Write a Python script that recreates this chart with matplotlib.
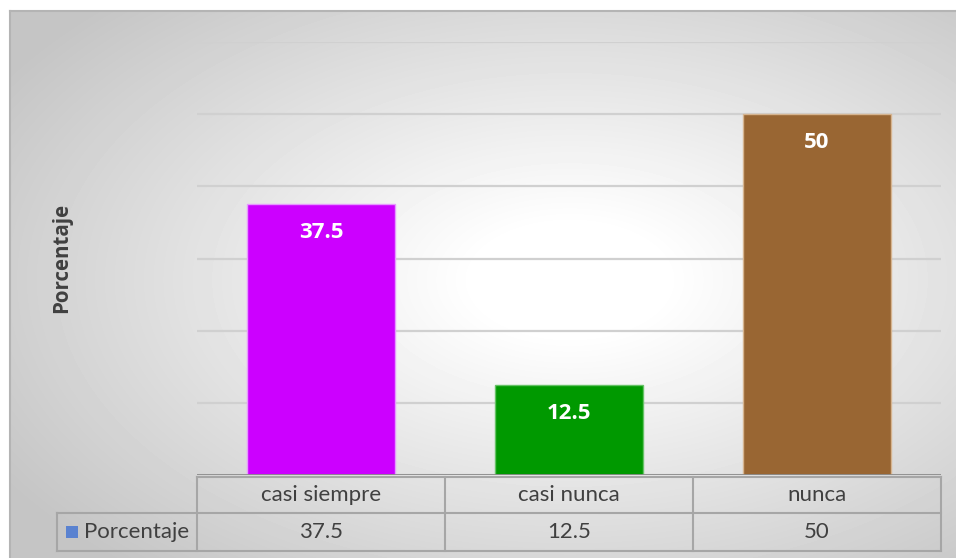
import numpy as np
import matplotlib.pyplot as plt
import matplotlib.transforms as mtransforms
from matplotlib.patches import Rectangle

categorias = ['casi siempre', 'casi nunca', 'nunca']
porcentaje = [37.5, 12.5, 50]
etiquetas = ['37.5', '12.5', '50']
serie = 'Porcentaje'

colores = ['#cc00ff', '#009900', '#996633']
bordes = ['#e699ff', '#66c266', '#d6b48f']
texto = '#404040'
linea_tabla = '#a6a6a6'
negrita = ['Open Sans', 'DejaVu Sans']

W, H = 956, 558
plt.rcParams['font.family'] = ['Lato', 'DejaVu Sans']

fig = plt.figure(figsize=(W / 100, H / 100), dpi=100)
fig.patch.set_facecolor('white')

# capa de fondo en pixeles (degradado radial + tabla)
bg = fig.add_axes([0, 0, 1, 1], zorder=0)
bg.axis('off')

x0, y0, x1, y1 = 10, 11, W, H
yy, xx = np.mgrid[y0:y1, x0:x1] + 0.5
cx, cy = 570, 280
d = np.sqrt(((xx - cx) / ((x1 - x0) / 2)) ** 2 + ((yy - cy) / ((y1 - y0) / 2)) ** 2)
v = 255 - 58 * np.clip((d - 0.2) / 1.2, 0, 1)
bg.imshow(v, cmap='gray', vmin=0, vmax=255, extent=(x0, x1, y1, y0),
          origin='upper', aspect='auto', interpolation='bilinear')
bg.plot([x0, x0], [y1, y0], color='#b4b4b4', lw=1.5)
bg.plot([x0, x1], [y0, y0], color='#b4b4b4', lw=1.5)
bg.set_xlim(0, W)
bg.set_ylim(H, 0)

# area del grafico
ax = fig.add_axes([197 / W, 1 - 475 / H, (941 - 197) / W, (475 - 42) / H], zorder=1)
ax.patch.set_visible(False)
x = np.arange(len(categorias))
barras = ax.bar(x, porcentaje, width=0.6, color=colores, edgecolor=bordes, linewidth=1, zorder=2)
ax.set_xlim(-0.5, len(categorias) - 0.5)
ax.set_ylim(0, 60)
ax.set_yticks(np.arange(0, 61, 10))
ax.yaxis.grid(True, color='#d0d0d0', lw=1.6)
ax.set_axisbelow(True)
ax.tick_params(length=0, labelleft=False, labelbottom=False)
for s in ax.spines.values():
    s.set_visible(False)
ax.set_xticks([])
ax.axhline(0, color='#8c8c8c', lw=2, zorder=3)

for xi, val, lab in zip(x, porcentaje, etiquetas):
    ax.annotate(lab, (xi, val), xytext=(0, -20.5), textcoords='offset points',
                ha='center', va='center', color='white', fontsize=16,
                fontweight='bold', family=negrita)

fig.text(62 / W, 1 - 258 / H, serie, rotation=90, ha='center', va='center',
         color=texto, fontsize=14.8, fontweight='bold', family=negrita)

# tabla de datos
tr = mtransforms.blended_transform_factory(ax.transData, bg.transData)
r0, r1, r2 = 477, 513, 551
n = len(categorias)
bg.plot([197, 941], [r0, r0], color=linea_tabla, lw=1.5)
bg.plot([57, 941], [r1, r1], color=linea_tabla, lw=1.5)
bg.plot([57, 941], [r2, r2], color=linea_tabla, lw=1.5)
bg.plot([57, 57], [r1, r2], color=linea_tabla, lw=1.5)
for i in range(n + 1):
    bg.plot([i - 0.5, i - 0.5], [r0, r2], color=linea_tabla, lw=1.5, transform=tr)
for xi, cat, lab in zip(x, categorias, porcentaje):
    bg.text(xi, (r0 + r1) / 2, cat, transform=tr, ha='center', va='center',
            color=texto, fontsize=16)
    bg.text(xi, (r1 + r2) / 2, f'{lab:g}', transform=tr, ha='center', va='center',
            color=texto, fontsize=16)
bg.add_patch(Rectangle((66, 526), 12, 12, facecolor='#5a82d0', edgecolor='none'))
bg.text(84, (r1 + r2) / 2, serie, ha='left', va='center', color=texto, fontsize=16)

fig.savefig('out.png', dpi=100)
